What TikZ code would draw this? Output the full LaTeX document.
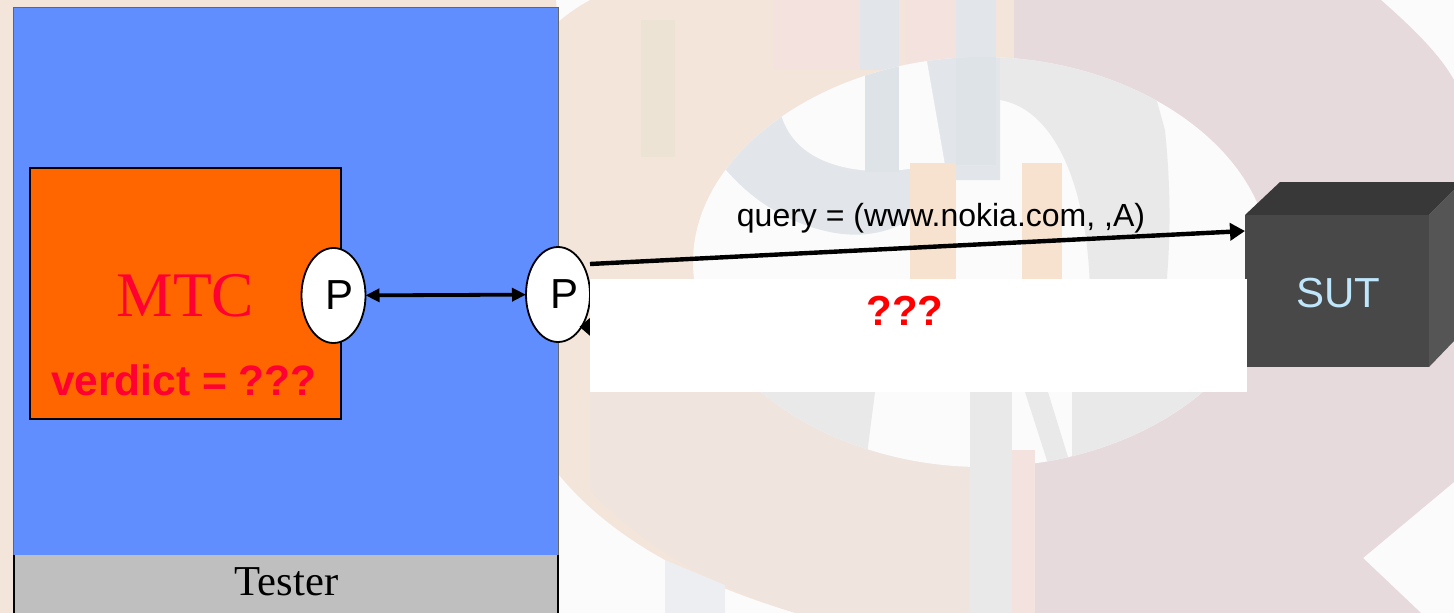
\documentclass[tikz,border=0pt]{standalone}
\usepackage{fontspec}
\setmainfont{Liberation Sans}
\newfontfamily\timesf{Liberation Serif}
\usetikzlibrary{arrows.meta,shapes.geometric}
\definecolor{peach}{HTML}{F4E5DB}
\definecolor{peachb}{HTML}{EFE4DE}
\definecolor{rosebg}{HTML}{E6DADD}
\definecolor{basebg}{HTML}{FBFBFB}
\definecolor{ringgray}{HTML}{E9E9E9}
\definecolor{ringblue}{HTML}{E2E6EA}
\definecolor{stemblue}{HTML}{DEE3E8}
\definecolor{tanbar}{HTML}{ECE3D4}
\definecolor{orangebar}{HTML}{F6E2CF}
\definecolor{pinkbar}{HTML}{F4E2DE}
\definecolor{testerblue}{HTML}{618EFF}
\definecolor{mtcorange}{HTML}{FF6600}
\definecolor{verdictred}{HTML}{FF0033}
\definecolor{cubefront}{HTML}{484848}
\definecolor{cubetop}{HTML}{383838}
\definecolor{cubeside}{HTML}{555555}
\definecolor{sutblue}{HTML}{BFE6FA}
\tikzset{
  x=1pt,y=-1pt,
  portnode/.style={ellipse,draw=black,line width=1.8pt,fill=white,minimum width=64pt,minimum height=95pt,inner sep=0pt,outer sep=0pt,font=\fontsize{42}{42}\selectfont},
  linkb/.style={line width=3.8pt,>={Triangle[length=14pt,width=13pt]}},
  linkq/.style={line width=4.4pt,>={Triangle[length=15pt,width=17pt]}},
  linkr/.style={line width=4pt,shorten >=-2pt,>={Triangle[length=11pt,width=18pt]}},
  plain/.style={inner sep=0pt,outer sep=0pt},
}
\begin{document}
\begin{tikzpicture}
\useasboundingbox (0,0) rectangle (1454,613);
% background picture
\fill[basebg] (0,0) rectangle (1454,613);
\fill[peach] (0,0) -- (1014,0) -- (1014,613) -- (796,613) .. controls (700,585) and (610,540) .. (555,470) -- (555,613) -- (0,613) -- cycle;
\fill[peachb] (700,392) -- (1014,392) -- (1014,613) -- (796,613) .. controls (720,590) and (640,545) .. (590,490) -- (590,392) -- cycle;
\fill[rosebg] (1014,0) -- (1381,0) .. controls (1415,30) and (1440,55) .. (1454,80) -- (1454,482) -- (1363,558) -- (1421,613) -- (1014,613) -- cycle;
\fill[pinkbar] (773,0) rectangle (860,70);
\fill[pinkbar] (905,0) rectangle (956,70);
\fill[tanbar] (641,20) rectangle (675,157);
\fill[basebg] (556,0) -- (590,0) .. controls (575,8) and (565,16) .. (558,22) -- cycle;
\fill[ringblue] (860,0) rectangle (899,70);
\fill[ringblue] (956,0) rectangle (996,70);
% ring disc
\def\discpath{(693,262) .. controls (693,150) and (830,57) .. (982,57) .. controls (1135,57) and (1270,150) .. (1270,262) .. controls (1270,375) and (1135,467) .. (982,467) .. controls (830,467) and (693,375) .. (693,262) -- cycle}
\fill[basebg] \discpath;
\begin{scope}
\clip \discpath;
\fill[ringblue] (700,40) -- (1000,40) -- (1000,180) -- (945,180) .. controls (920,225) and (880,240) .. (835,233) .. controls (790,225) and (750,200) .. (722,165) -- cycle;
\fill[ringgray] (1000,40) -- (1140,40) -- (1165,130) .. controls (1172,200) and (1170,250) .. (1165,300) -- (1090,300) .. controls (1090,200) and (1060,110) .. (1000,100) -- cycle;
\fill[basebg] (779,105) .. controls (810,80) and (860,60) .. (905,57) -- (928,165) .. controls (880,178) and (790,175) .. (779,105) -- cycle;
\fill[stemblue] (865,40) rectangle (899,172);
\fill[stemblue] (956,40) rectangle (996,165);
\fill[basebg] (900,50) -- (925,50) -- (945,165) -- (925,165) -- cycle;
\fill[orangebar] (910,163) rectangle (956,285);
\fill[orangebar] (1022,163) rectangle (1062,285);
\fill[ringgray] (730,392) -- (875,392) -- (865,470) -- (730,470) -- cycle;
\fill[ringgray] (1025,392) -- (1048,392) -- (1072,470) -- (1050,470) -- cycle;
\fill[ringgray] (1072,392) rectangle (1280,470);
\end{scope}
\fill[ringgray] (970,392) rectangle (1012,613);
\fill[pinkbar] (1012,450) rectangle (1035,613);
\fill[ringblue!60!basebg] (665,560) -- (725,585) -- (725,613) -- (665,613) -- cycle;
% tester
\node[plain,fill=testerblue,draw=black!60,line width=0.8pt,minimum width=545pt,minimum height=548pt,anchor=north west] (tester) at (13,7) {};
\node[plain,fill=black!25,minimum width=544pt,minimum height=58pt,anchor=north west] (testerbase) at (13.5,555) {};
\draw[line width=2pt] (testerbase.north west) -- (testerbase.south west);
\draw[line width=2pt] (testerbase.north east) -- (testerbase.south east);
\node[plain,font=\timesf\fontsize{42.6}{42.6}\selectfont,anchor=base] (testerlabel) at (286.5,595) {Tester};
% MTC
\node[plain,fill=mtcorange,draw=black,line width=1.6pt,minimum width=311pt,minimum height=251pt,anchor=north west] (mtc) at (30,168) {};
\node[plain,text=verdictred,font=\timesf\fontsize{63.5}{63.5}\selectfont,anchor=base] (mtclabel) at (185.5,316) {MTC};
\node[plain,text=verdictred,font=\bfseries\fontsize{42.5}{42.5}\selectfont,anchor=base] (verdict) at (184,395) {verdict = ???};
% ports
\node[portnode] (p1) at (333.5,295.5) {\kern13pt P};
\node[portnode] (p2) at (558,294.5) {\kern13pt P};
\draw[linkb,<->] (p1) -- (p2);
% SUT
\fill[cubetop] (1245,215) -- (1280,182) -- (1454,182) -- (1454,190) -- (1429,215) -- cycle;
\fill[cubeside] (1429,215) -- (1454,190) -- (1454,341) -- (1429,367) -- cycle;
\node[plain,fill=cubefront,minimum width=184pt,minimum height=152pt,anchor=north west] (sut) at (1245,215) {};
\node[plain,text=sutblue,font=\fontsize{42}{42}\selectfont,anchor=base] (sutlabel) at (1338,307) {SUT};
% connectors
\coordinate (p2out) at (590,264);
\coordinate (sutin) at (1245,231);
\draw[linkq,->] (p2out) -- (sutin);
\coordinate (replyfrom) at (1245,328);
\draw[linkr,->] (replyfrom) -- (p2.-54);
\node[plain,font=\fontsize{32}{32}\selectfont,anchor=base] (query) at (941,226) {query = (www.nokia.com, ,A)};
% white cover
\node[plain,fill=white,minimum width=657pt,minimum height=113pt,anchor=north west] (cover) at (590,279) {};
\node[plain,text=red,font=\bfseries\fontsize{42}{42}\selectfont,anchor=base] (ask) at (905,325) {???};
\end{tikzpicture}
\end{document}
